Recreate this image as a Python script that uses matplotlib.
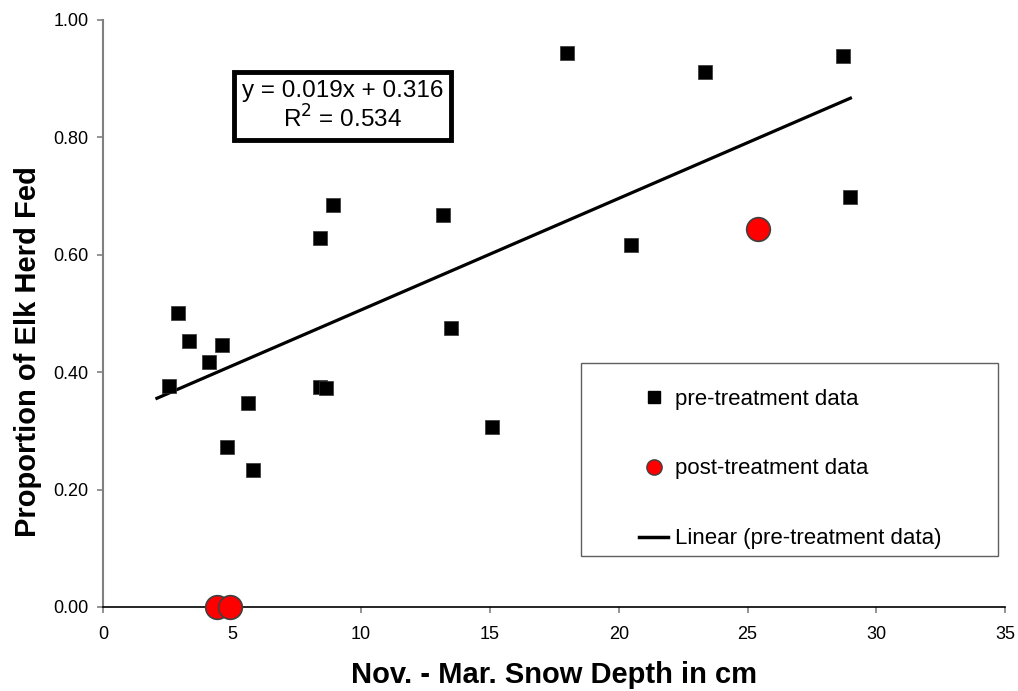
"""Elk herd feeding proportion vs. winter snow depth."""

import matplotlib

matplotlib.use("Agg")
import matplotlib.pyplot as plt
from matplotlib.lines import Line2D
from matplotlib.patches import Rectangle

plt.rcParams["font.family"] = ["Liberation Sans", "DejaVu Sans"]

# pre-treatment observations (snow depth cm, proportion fed)
pre_depth = [2.56, 2.90, 3.31, 4.11, 4.61, 4.80, 5.60, 5.81, 8.40, 8.66,
             8.40, 8.91, 13.2, 13.5, 15.08, 18.0, 20.47, 23.36, 28.69, 28.99]
pre_fed = [0.377, 0.500, 0.453, 0.417, 0.446, 0.273, 0.347, 0.233, 0.375, 0.373,
           0.628, 0.685, 0.668, 0.475, 0.306, 0.943, 0.616, 0.911, 0.939, 0.699]

# post-treatment observations
post_depth = [4.41, 4.93, 25.4]
post_fed = [0.0, 0.0, 0.644]

# linear trendline reported on the chart
slope = 0.019
intercept = 0.316
r_squared = 0.534
trend_x = [2.08, 28.99]

y_ticks = [0, 0.2, 0.4, 0.6, 0.8, 1.0]

fig = plt.figure(figsize=(10.18, 6.91), dpi=100)
ax = fig.add_axes([0.1015, 0.1216, 0.886, 0.8495])

trend_y = [slope * x + intercept for x in trend_x]
ax.plot(trend_x, trend_y, color="black", linewidth=2.3, zorder=2)
ax.scatter(pre_depth, pre_fed, marker="s", s=95, color="black",
           edgecolors="#333333", linewidths=0.5, zorder=3)
ax.scatter(post_depth, post_fed, marker="o", s=290, color="red",
           edgecolors="#404040", linewidths=1.2, zorder=4, clip_on=False)

ax.set_xlim(0, 35)
ax.set_ylim(0, 1.0)
ax.set_xticks(range(0, 36, 5))
ax.set_yticks(y_ticks)
ax.set_yticklabels([f"{v:.2f}" for v in y_ticks])
ax.tick_params(axis="both", labelsize=13, color="#808080", length=4.5,
               width=1.2, direction="out")
ax.tick_params(axis="x", pad=9)
ax.tick_params(axis="y", pad=6)

for side in ["top", "right"]:
    ax.spines[side].set_visible(False)
ax.spines["left"].set_color("#808080")
ax.spines["left"].set_linewidth(1.5)
ax.spines["bottom"].set_color("black")
ax.spines["bottom"].set_linewidth(1.2)

ax.set_xlabel("Nov. - Mar. Snow Depth in cm", fontsize=21, fontweight="bold")
ax.set_ylabel("Proportion of Elk Herd Fed", fontsize=21, fontweight="bold")
ax.xaxis.set_label_coords(0.5, -0.092)
ax.yaxis.set_label_coords(-0.068, 0.435)

ax.text(0.265, 0.853, f"y = {slope}x + {intercept}\nR$^2$ = {r_squared}",
        transform=ax.transAxes, ha="center", va="center", fontsize=17.5,
        linespacing=1.15,
        bbox=dict(boxstyle="square,pad=0.32", facecolor="white",
                  edgecolor="black", linewidth=3.5))

# legend frame drawn separately so the entries can sit inset like the original
ax.add_patch(Rectangle((0.530, 0.087), 0.462, 0.329, transform=ax.transAxes,
                       facecolor="white", edgecolor="#606060", linewidth=1.0,
                       zorder=5, clip_on=False))

handles = [
    Line2D([], [], marker="s", color="black", linestyle="none", markersize=9),
    Line2D([], [], marker="o", color="red", markeredgecolor="#404040",
           linestyle="none", markersize=11),
    Line2D([], [], color="black", linewidth=2.5),
]
labels = ["pre-treatment data", "post-treatment data",
          "Linear (pre-treatment data)"]
leg = ax.legend(handles, labels, loc="upper left",
                bbox_to_anchor=(0.594, 0.372), fontsize=16,
                labelspacing=2.2, handlelength=1.3, handletextpad=0.3,
                borderpad=0, borderaxespad=0, frameon=False)
leg.set_zorder(6)

fig.savefig("out.png", dpi=100)
